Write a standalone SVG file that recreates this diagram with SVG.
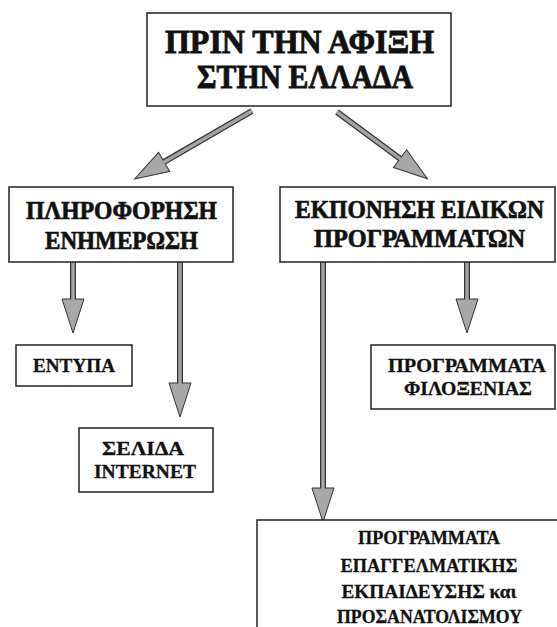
<svg xmlns="http://www.w3.org/2000/svg" width="557" height="627" viewBox="0 0 557 627">
<style>
.box{fill:#fff;stroke:#222;stroke-width:1.5}
.t{font-family:"Liberation Serif","Times New Roman",serif;font-weight:bold;fill:#111;stroke:#111;stroke-width:0.5;text-anchor:middle}
.t1{font-size:34px;stroke-width:0.9}
.t2{font-size:25px;stroke-width:0.7}
.t3{font-size:19px;stroke-width:0.3}
.so{stroke:#333;stroke-width:6;fill:none}
.si{stroke:#a4a4a4;stroke-width:3.5;fill:none}
</style>
<defs>
<marker id="head" markerUnits="userSpaceOnUse" orient="auto" refX="1" refY="12" markerWidth="40" markerHeight="26" viewBox="0 0 40 26" overflow="visible">
<path d="M1,1 L35,12 L1,23 z" fill="#a8a8a8" stroke="#333" stroke-width="1"/>
</marker>
</defs>
<rect width="557" height="627" fill="#fff"/>
<g id="connectors">
<line class="so" x1="252" y1="111" x2="164.1" y2="161.95" marker-end="url(#head)"/>
<line class="si" x1="252" y1="111" x2="162.4" y2="162.95"/>
<line class="so" x1="337" y1="112" x2="400.05" y2="158.6" marker-end="url(#head)"/>
<line class="si" x1="337" y1="112" x2="401.7" y2="159.8"/>
<line class="so" x1="73" y1="262" x2="73" y2="299" marker-end="url(#head)"/>
<line class="si" x1="73" y1="262" x2="73" y2="301"/>
<line class="so" x1="180" y1="262" x2="180" y2="383" marker-end="url(#head)"/>
<line class="si" x1="180" y1="262" x2="180" y2="385"/>
<line class="so" x1="323" y1="262" x2="323" y2="488" marker-end="url(#head)"/>
<line class="si" x1="323" y1="262" x2="323" y2="490"/>
<line class="so" x1="467" y1="262" x2="467" y2="299" marker-end="url(#head)"/>
<line class="si" x1="467" y1="262" x2="467" y2="301"/>
</g>
<g id="n-top">
<rect class="box" x="147" y="13" width="304" height="93"/>
<text class="t t1" x="299.5" y="53" textLength="269" lengthAdjust="spacingAndGlyphs">ΠΡΙΝ ΤΗΝ ΑΦΙΞΗ</text>
<text class="t t1" x="305" y="88" textLength="216" lengthAdjust="spacingAndGlyphs">ΣΤΗΝ ΕΛΛΑΔΑ</text>
</g>
<g id="n-info">
<rect class="box" x="9" y="187" width="224" height="75"/>
<text class="t t2" x="121.5" y="219" textLength="191" lengthAdjust="spacingAndGlyphs">ΠΛΗΡΟΦΟΡΗΣΗ</text>
<text class="t t2" x="121.5" y="249" textLength="153" lengthAdjust="spacingAndGlyphs">ΕΝΗΜΕΡΩΣΗ</text>
</g>
<g id="n-prog">
<rect class="box" x="280" y="187" width="275" height="75"/>
<text class="t t2" x="419.5" y="218" textLength="249" lengthAdjust="spacingAndGlyphs">ΕΚΠΟΝΗΣΗ ΕΙΔΙΚΩΝ</text>
<text class="t t2" x="419.5" y="247" textLength="211" lengthAdjust="spacingAndGlyphs">ΠΡΟΓΡΑΜΜΑΤΩΝ</text>
</g>
<g id="n-entypa">
<rect class="box" x="16" y="345" width="116" height="41"/>
<text class="t t3" x="74" y="372" textLength="82" lengthAdjust="spacingAndGlyphs">ΕΝΤΥΠΑ</text>
</g>
<g id="n-selida">
<rect class="box" x="79" y="428" width="134" height="64"/>
<text class="t t3" x="143" y="455" textLength="82" lengthAdjust="spacingAndGlyphs">ΣΕΛΙΔΑ</text>
<text class="t t3" x="145" y="478" textLength="102" lengthAdjust="spacingAndGlyphs">INTERNET</text>
</g>
<g id="n-filox">
<rect class="box" x="371" y="345" width="184" height="64"/>
<text class="t t3" x="467" y="372" textLength="158" lengthAdjust="spacingAndGlyphs">ΠΡΟΓΡΑΜΜΑΤΑ</text>
<text class="t t3" x="468" y="395" textLength="128" lengthAdjust="spacingAndGlyphs">ΦΙΛΟΞΕΝΙΑΣ</text>
</g>
<g id="n-epag">
<rect class="box" x="257" y="520" width="330" height="130"/>
<text class="t t3" x="429" y="544" textLength="142" lengthAdjust="spacingAndGlyphs">ΠΡΟΓΡΑΜΜΑΤΑ</text>
<text class="t t3" x="429" y="572" textLength="177" lengthAdjust="spacingAndGlyphs">ΕΠΑΓΓΕΛΜΑΤΙΚΗΣ</text>
<text class="t t3" x="429" y="598" textLength="175" lengthAdjust="spacingAndGlyphs">ΕΚΠΑΙΔΕΥΣΗΣ και</text>
<text class="t t3" x="429.5" y="623" textLength="185" lengthAdjust="spacingAndGlyphs">ΠΡΟΣΑΝΑΤΟΛΙΣΜΟΥ</text>
</g>
</svg>
